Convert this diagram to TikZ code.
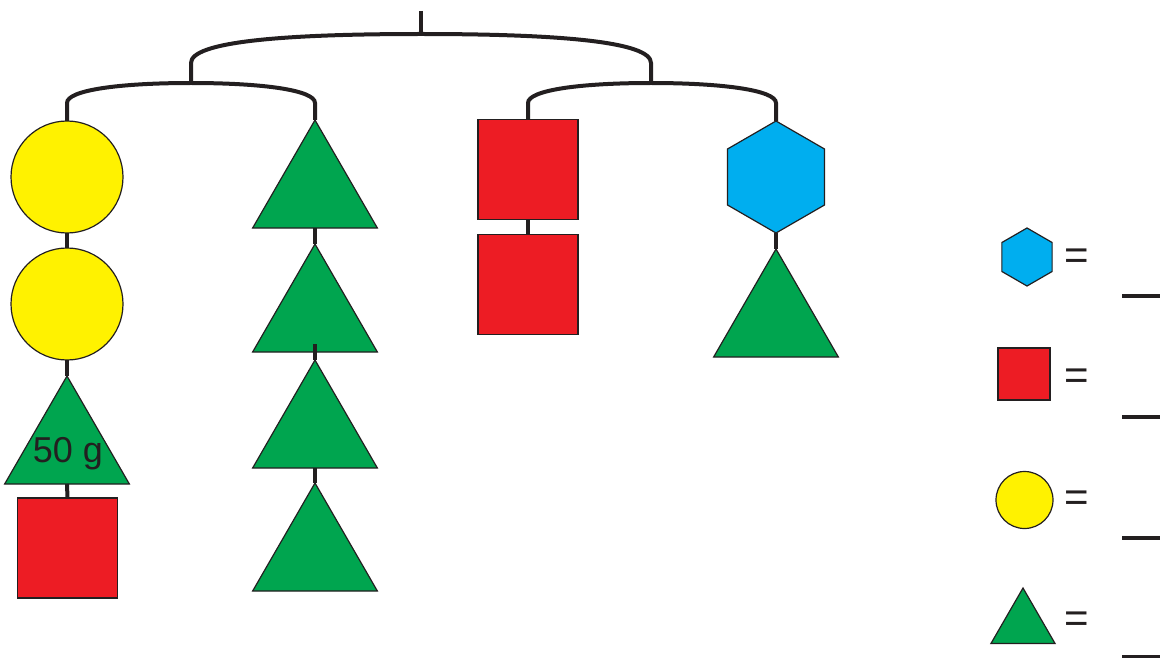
\documentclass[tikz,border=0pt]{standalone}
\usepackage{fontspec}
\setmainfont{Liberation Sans}
\usetikzlibrary{shapes.geometric}
\definecolor{ink}{HTML}{231F20}
\definecolor{myyellow}{HTML}{FFF200}
\definecolor{mygreen}{HTML}{00A54F}
\definecolor{myred}{HTML}{ED1C24}
\definecolor{myblue}{HTML}{00AEEF}
\begin{document}
\begin{tikzpicture}[x=1pt,y=-1pt,
  outl/.style={draw=ink, line width=1.2pt, inner sep=0pt, outer sep=0pt},
  ball/.style={outl, circle, fill=myyellow, minimum size=#1},
  ball/.default=112pt,
  tri/.style={outl, regular polygon, regular polygon sides=3, fill=mygreen, minimum size=#1},
  tri/.default=144pt,
  box/.style={outl, rectangle, fill=myred, minimum width=#1, minimum height=#1},
  box/.default=100pt,
  hex/.style={outl, regular polygon, regular polygon sides=6, shape border rotate=30, fill=myblue, minimum size=#1},
  hex/.default=112pt,
  hang/.style={draw=ink, line width=4pt},
  blank/.style={draw=ink, line width=4.5pt},
  eq/.style={font=\fontsize{42}{46}\selectfont, text=ink, inner sep=0pt, anchor=base},
  wt/.style={font=\fontsize{36}{40}\selectfont, text=ink, inner sep=0pt, anchor=base}
]
\useasboundingbox (0,0) rectangle (1165,658);

% column 1
\node[ball] (c1) at (67,177) {};
\node[ball] (c2) at (67,304) {};
\node[tri] (t1) at (67,448) {};
\node[box] (b1) at (67.5,548) {};
\node[wt] (w1) at (68,462) {50 g};

% column 2
\node[tri] (t2a) at (315,192) {};
\node[tri] (t2b) at (315,316) {};
\node[tri] (t2c) at (315,432) {};
\node[tri] (t2d) at (315,555) {};

% column 3
\node[box] (s3a) at (528,169.5) {};
\node[box] (s3b) at (528,284.5) {};

% column 4
\node[hex] (h4) at (776,177) {};
\node[tri] (t4) at (776,321) {};

% hanging strings between shapes
\draw[hang] (c1.south) -- (c2.north);
\draw[hang] (c2.south) -- (t1.north);
\draw[hang] (t1.south) -- (b1.north);
\draw[hang] (t2a.south) -- (t2b.north);
\draw[hang] ([yshift=8pt]t2b.south) -- (t2c.north);
\draw[hang] (t2c.south) -- (t2d.north);
\draw[hang] (s3a.south) -- (s3b.north);
\draw[hang] (h4.south) -- (t4.north);

% hanger bars
\coordinate (top) at (421,11);
\coordinate (topmid) at (421,34);
\coordinate (L) at (191,63);
\coordinate (Lmid) at (191,83);
\coordinate (L1) at (67,103);
\coordinate (L2) at (315,103);
\coordinate (R) at (651,63);
\coordinate (Rmid) at (651,83);
\coordinate (R1) at (528,103);
\coordinate (R2) at (776,103);

\draw[hang] (top) -- (topmid);
\draw[hang] (Lmid) -- (L) .. controls (191,42) and (280,34) .. (topmid)
  .. controls (562,34) and (651,42) .. (R) -- (Rmid);
\draw[hang] (c1.north) -- (L1) .. controls (67,90) and (120,83) .. (Lmid)
  .. controls (262,83) and (315,90) .. (L2) -- (t2a.north);
\draw[hang] (s3a.north) -- (R1) .. controls (528,90) and (581,83) .. (Rmid)
  .. controls (721,83) and (776,90) .. (R2) -- (h4.north);

% legend
\node[hex=58pt] (lh) at (1027,257) {};
\node[box=52pt] (ls) at (1024,374) {};
\node[ball=57pt] (lc) at (1024.5,500) {};
\node[tri=74pt] (lt) at (1023,625) {};

\node[eq] (e1) at (1077,269) {=};
\node[eq] (e2) at (1077,389.5) {=};
\node[eq] (e3) at (1077,511) {=};
\node[eq] (e4) at (1077,632) {=};

\coordinate (a1) at (1122,296); \coordinate (z1) at (1160,296);
\coordinate (a2) at (1122,417); \coordinate (z2) at (1160,417);
\coordinate (a3) at (1122,538); \coordinate (z3) at (1160,538);
\coordinate (a4) at (1122,657); \coordinate (z4) at (1160,657);
\draw[blank] (a1) -- (z1);
\draw[blank] (a2) -- (z2);
\draw[blank] (a3) -- (z3);
\draw[blank] (a4) -- (z4);
\end{tikzpicture}
\end{document}
